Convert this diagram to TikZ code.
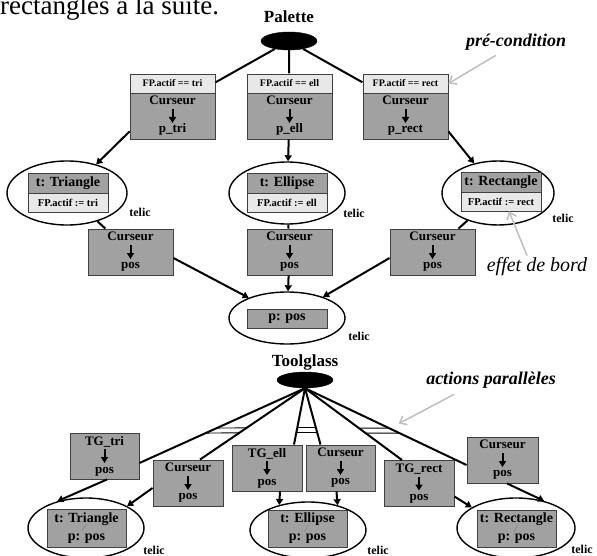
\documentclass[tikz,border=0pt]{standalone}
\usepackage{fontspec}
\setmainfont{Liberation Serif}
\usetikzlibrary{shapes.geometric,arrows.meta,fit,calc}
\definecolor{boxdark}{gray}{0.63}
\definecolor{boxlight}{gray}{0.91}
\definecolor{edgegray}{gray}{0.25}
\definecolor{annotgray}{gray}{0.75}
\tikzset{
  box/.style={draw=edgegray, line width=0.9pt, fill=boxdark, align=center,
    font=\bfseries\fontsize{13}{14}\selectfont, minimum height=46pt, inner sep=0},
  hdr/.style={draw=edgegray, line width=0.9pt, fill=boxlight, minimum width=85pt,
    minimum height=19pt, inner sep=0, font=\bfseries\fontsize{10}{11}\selectfont},
  tbox/.style={draw=edgegray, line width=0.7pt, fill=boxdark, minimum width=80pt,
    minimum height=20pt, inner sep=0, font=\bfseries\fontsize{14}{15}\selectfont},
  fbox/.style={draw=edgegray, line width=0.7pt, fill=boxlight, minimum width=80pt,
    minimum height=19pt, inner sep=0, font=\bfseries\fontsize{10.5}{11}\selectfont},
  oval/.style={ellipse, draw=black, line width=1.4pt, inner sep=0},
  blob/.style={ellipse, draw=black, fill=black, inner sep=0},
  conn/.style={line width=2pt, black},
  arr/.style={conn, -{Triangle[length=6pt,width=7pt]}},
  inarrow/.style={line width=2pt, -{Triangle[length=6pt,width=7pt]}},
  bar/.style={line width=0.9pt, black},
  telic/.style={font=\bfseries\fontsize{12}{13}\selectfont, inner sep=0},
  title/.style={font=\bfseries\fontsize{17}{19}\selectfont, inner sep=0},
  annot/.style={font=\bfseries\itshape\fontsize{18}{20}\selectfont, inner sep=0},
  garr/.style={draw=annotgray, line width=1.5pt, -{Straight Barb[length=6pt,width=10pt]}},
}
\begin{document}
\begin{tikzpicture}[x=1pt,y=-1pt]
\useasboundingbox (0,0) rectangle (597,556);
\node[anchor=base west, font=\fontsize{27}{29}\selectfont, inner sep=0] (intro) at (0,14.5) {rectangles à la suite.};

% ---------- Palette ----------
\node[title] (paltxt) at (289,17) {Palette};
\node[blob, minimum width=56pt, minimum height=18pt] (pal) at (289,41) {};

\node[hdr] (h1) at (172.5,83.5) {FP.actif == tri};
\node[box, minimum width=85pt] (b1) at (172.5,116) {Curseur\\[14pt]p\_tri};
\node[fit=(h1)(b1), inner sep=0] (box1) {};
\node[hdr] (h2) at (289.5,83.5) {FP.actif == ell};
\node[box, minimum width=85pt] (b2) at (289.5,116) {Curseur\\[14pt]p\_ell};
\node[fit=(h2)(b2), inner sep=0] (box2) {};
\node[hdr] (h3) at (405.5,83.5) {FP.actif == rect};
\node[box, minimum width=85pt] (b3) at (405.5,116) {Curseur\\[14pt]p\_rect};
\node[fit=(h3)(b3), inner sep=0] (box3) {};

\draw[conn] (pal) -- (box1);
\draw[conn] (pal) -- (box2);
\draw[conn] (pal) -- (box3);

% row 2 ellipses
\node[oval, minimum width=120pt, minimum height=64pt] (o1) at (67,193) {};
\node[tbox] (t1) at (68,183) {t: Triangle};
\node[fbox] (f1) at (68,202.5) {FP.actif := tri};
\node[telic] (tl1) at (140,212) {telic};

\node[oval, minimum width=116pt, minimum height=62pt] (o2) at (287,193) {};
\node[tbox] (t2) at (287,183) {t: Ellipse};
\node[fbox] (f2) at (287,202.5) {FP.actif := ell};
\node[telic] (tl2) at (354,213) {telic};

\node[oval, minimum width=112pt, minimum height=64pt] (o3) at (498,193) {};
\node[tbox] (t3) at (501,182) {t: Rectangle};
\node[fbox] (f3) at (501,201.5) {FP.actif := rect};
\node[telic] (tl3) at (563,218) {telic};

\draw[arr] ([yshift=8pt]b1.south west) -- (o1);
\draw[arr] (b2) -- (o2);
\draw[arr] ([yshift=8pt]b3.south east) -- (o3);

% row 2 Curseur boxes
\node[box, minimum width=85pt] (c1) at (130.5,252) {Curseur\\[14pt]pos};
\node[box, minimum width=85pt] (c2) at (289.5,252) {Curseur\\[14pt]pos};
\node[box, minimum width=85pt] (c3) at (432.5,252) {Curseur\\[14pt]pos};
\draw[conn] (o1) -- (c1);
\draw[conn] (o2) -- (c2);
\draw[conn] (o3) -- (c3);

% p: pos ellipse
\node[oval, minimum width=116pt, minimum height=52pt] (pe) at (287,318) {};
\node[tbox, minimum height=19pt] (pp) at (287,318.5) {p: pos};
\node[telic] (tl4) at (359,336) {telic};
\draw[arr] ([yshift=-6pt]c1.east) -- (pe);
\draw[arr] (c2) -- (pe);
\draw[arr] ([yshift=-6pt]c3.west) -- (pe);

% annotations top
\node[annot] (pre) at (516,42) {pré-condition};
\draw[garr] ($(pre.south west)+(30,5)$) -- (h3.east);
\node[font=\itshape\fontsize{20}{22}\selectfont, inner sep=0] (eff) at (537,267) {effet de bord};
\draw[garr] ($(eff.north)+(-10,-2)$) -- ([xshift=8pt]f3.south);

% ---------- Toolglass ----------
\node[title] (tgtxt) at (305,362) {Toolglass};
\node[blob, minimum width=56pt, minimum height=16pt] (tg) at (305,380) {};
\coordinate (tgb) at (tg.south);

\node[box, minimum width=69pt] (tgtri) at (104.5,456) {TG\_tri\\[14pt]pos};
\node[box, minimum width=70pt] (cur1) at (188,483) {Curseur\\[14pt]pos};
\node[box, minimum width=70pt] (tgell) at (267,468) {TG\_ell\\[14pt]pos};
\node[box, minimum width=69pt] (cur2) at (340.5,468) {Curseur\\[14pt]pos};
\node[box, minimum width=70pt] (tgrect) at (419,483.5) {TG\_rect\\[14pt]pos};
\node[box, minimum width=71pt] (cur3) at (502.5,460) {Curseur\\[14pt]pos};

\coordinate (e1) at ([yshift=-7pt]tgtri.east);
\coordinate (e2) at ([xshift=12pt]cur1.north);
\coordinate (e3) at ([xshift=27pt]tgell.north);
\coordinate (e4) at ([xshift=-20pt]cur2.north);
\coordinate (e5) at ([xshift=-17pt]tgrect.north);
\coordinate (e6) at ([yshift=-5pt]cur3.west);
\foreach \e in {e1,e2,e3,e4,e5,e6} \draw[conn] (tgb) -- (\e);

% parallel bars
\draw[bar] ($(tgb)!0.533!(e1)$) -- ($(tgb)!0.556!(e2)$);
\draw[bar] ($(tgb)!0.600!(e1)$) -- ($(tgb)!0.625!(e2)$);
\draw[bar] ($(tgb)!0.702!(e3)$) -- ($(tgb)!0.702!(e4)$);
\draw[bar] ($(tgb)!0.789!(e3)$) -- ($(tgb)!0.789!(e4)$);
\draw[bar] ($(tgb)!0.556!(e5)$) -- ($(tgb)!0.519!(e6)$);
\draw[bar] ($(tgb)!0.625!(e5)$) -- ($(tgb)!0.584!(e6)$);

\node[annot] (act) at (491,380) {actions parallèles};
\path ($(tgb)!0.5!(e6)$) ++(13,-3) coordinate (apt);
\draw[garr] ($(act.south west)+(28,6)$) -- (apt);

% bottom ellipses
\node[oval, minimum width=116pt, minimum height=60pt] (ob1) at (86,528) {};
\node[tbox, minimum width=79pt, minimum height=38pt, align=center] (ib1) at (86.5,528) {t: Triangle\\[3pt]p: pos};
\draw[gray, line width=0.5pt] ($(ib1.center)+(-5,3)$) -- ($(ib1.center)+(-1,-3)$);
\node[telic] (tl5) at (154,550) {telic};

\node[oval, minimum width=116pt, minimum height=56pt] (ob2) at (308,530) {};
\node[tbox, minimum width=79pt, minimum height=37pt, align=center] (ib2) at (307.5,528.5) {t: Ellipse\\[3pt]p: pos};
\draw[gray, line width=0.5pt] ($(ib2.center)+(-3,3)$) -- ($(ib2.center)+(1,-3)$);
\node[telic] (tl6) at (378,550) {telic};

\node[oval, minimum width=118pt, minimum height=60pt] (ob3) at (516,528) {};
\node[tbox, minimum width=79pt, minimum height=37pt, align=center] (ib3) at (516.5,528.5) {t: Rectangle\\[3pt]p: pos};
\draw[gray, line width=0.5pt] ($(ib3.center)+(-3,3)$) -- ($(ib3.center)+(1,-3)$);
\node[telic] (tl7) at (582,549) {telic};

\draw[arr] ([xshift=2.5pt]tgtri.south) -- (ob1.137);
\draw[arr] ([yshift=-5pt]cur1.west) -- (ob1.28);
\draw[arr] ([xshift=13pt]tgell.south) -- (ob2.139);
\draw[arr] ([xshift=-4pt]cur2.south) -- (ob2.40);
\draw[arr] ([yshift=-13pt]tgrect.east) -- (ob3.155);
\draw[arr] ([xshift=4.5pt]cur3.south) -- (ob3.44);

% inner arrows of the boxes
\foreach \b in {b1,b2,b3,c1,c2,c3,tgtri,cur1,tgell,cur2,tgrect,cur3}
  \draw[inarrow] ([yshift=7pt]\b.center) -- ([yshift=-7pt]\b.center);
\end{tikzpicture}
\end{document}
